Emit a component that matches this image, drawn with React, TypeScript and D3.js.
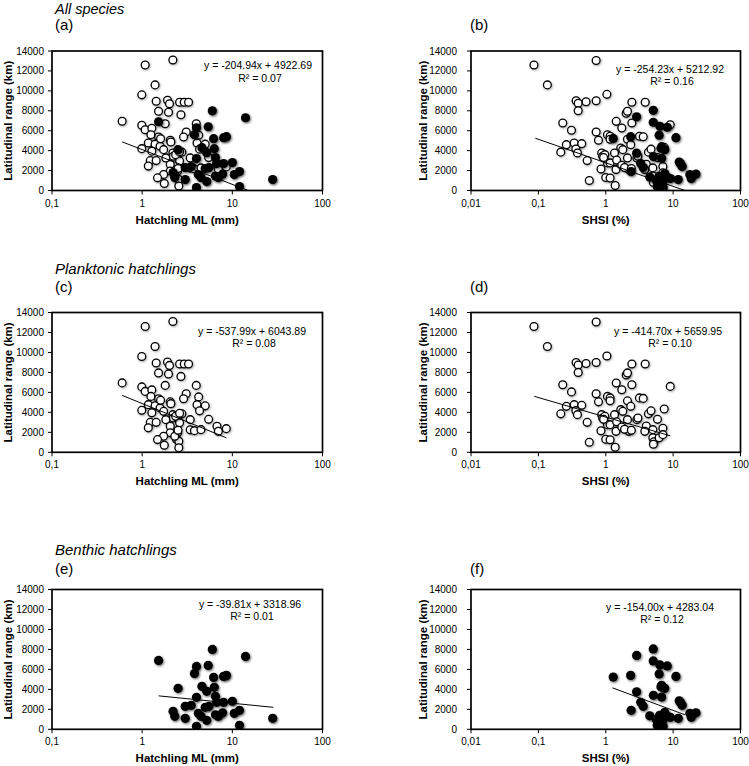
import React from "react";
import * as d3 from "d3";

// ---------- data (x, latitudinal range km) ----------
const planktonicML: [number, number][] = [
  [0.6, 6950], [1.08, 12600], [2.19, 13100], [1.39, 10600], [0.99, 9600], [1.43, 8950], [1.91, 9050],
  [2.01, 8700], [2.6, 8850], [2.93, 8850], [3.27, 8850], [1.52, 7950], [1.96, 7850], [2.69, 7600],
  [0.99, 6550], [1.8, 6700], [3.98, 6700], [1.08, 6100], [1.28, 6250], [3.08, 5870], [1.52, 5370],
  [1.25, 5600], [2.05, 5050], [2.08, 4870], [2.88, 5370], [4.23, 5550], [4.06, 4770], [5.0, 4650],
  [0.99, 4200], [1.17, 4770], [1.39, 4650], [1.58, 4440], [4.33, 4150], [1.28, 3950], [1.73, 4100],
  [2.19, 3770], [2.76, 3850], [3.41, 3270], [5.46, 3300], [1.23, 3000], [1.43, 3000], [1.83, 3270],
  [2.22, 3440], [2.45, 3500], [1.17, 2450], [2.05, 2600], [2.6, 2950], [3.41, 2250], [3.8, 2170],
  [4.49, 2270], [6.76, 2600], [7.0, 2100], [8.57, 2370], [2.05, 1950], [2.47, 1950], [1.73, 1600],
  [1.48, 1270], [2.4, 1300], [2.55, 1100], [1.76, 700], [2.55, 450], [2.3, 1600], [2.5, 2200],
  [2.35, 3600], [2.6, 3900], [1.6, 5200],
];

const planktonicSHSI: [number, number][] = [
  [0.086, 12600], [0.72, 13050], [0.136, 10600], [1.04, 9650], [0.363, 9000], [0.39, 8750], [0.51, 8900],
  [0.72, 9000], [0.39, 8000], [2.44, 8850], [3.85, 8850], [2.01, 7750], [2.1, 7950], [0.23, 6770],
  [0.31, 6050], [1.43, 6940], [2.44, 6770], [9.06, 6600], [0.72, 5870], [1.06, 5600], [1.16, 5450],
  [1.73, 6270], [3.16, 5450], [3.6, 5400], [0.26, 4600], [0.34, 4770], [0.44, 4700], [0.215, 3850],
  [0.36, 4170], [0.38, 3770], [0.78, 5050], [1.16, 5150], [2.1, 5150], [2.35, 4600], [1.67, 4270],
  [1.79, 4100], [7.38, 4330], [0.87, 3770], [0.9, 3440], [0.97, 3600], [0.53, 3000], [0.85, 2150],
  [1.06, 2770], [1.16, 2770], [1.35, 3770], [1.45, 3050], [2.1, 3270], [2.9, 3270], [3.0, 3440],
  [4.3, 3850], [4.7, 4150], [5.86, 3300], [4.0, 2640], [3.8, 2100], [5.0, 2270], [7.05, 2400],
  [1.42, 2100], [2.2, 2100], [1.73, 2540], [0.57, 1000], [1.0, 1300], [1.16, 1250], [1.38, 500],
  [5.0, 1450], [5.2, 1050], [5.1, 800], [6.2, 1450], [7.05, 1770], [0.93, 3300], [1.9, 2300], [2.4, 2200],
];

const benthicML: [number, number][] = [
  [1.52, 6900], [2.5, 4100], [3.0, 2300], [3.5, 2400], [2.2, 1800], [2.3, 1300], [3.0, 1100],
  [4.0, 6300], [3.8, 5600], [4.0, 3200], [4.6, 4300], [5.2, 3800], [5.4, 6400], [6.0, 8000],
  [6.2, 5200], [6.3, 4200], [6.5, 3300], [6.7, 2700], [8.0, 5300], [8.6, 5400], [8.0, 2700],
  [10.0, 2800], [5.0, 2200], [5.5, 2300], [4.2, 1600], [4.5, 1300], [5.2, 900], [6.5, 1450],
  [7.0, 1300], [7.8, 1650], [10.5, 1600], [12.0, 1900], [12.0, 400], [4.0, 300], [14.0, 7300],
  [28.0, 1100],
];

const benthicSHSI: [number, number][] = [
  [1.29, 5230], [2.87, 7400], [2.34, 5400], [5.07, 8050], [5.07, 6850], [6.37, 6450], [8.18, 6350],
  [6.2, 5550], [11.0, 5300], [6.75, 4400], [7.5, 4100], [6.6, 4250], [2.87, 3750], [5.1, 3400],
  [6.75, 3230], [3.3, 2700], [3.6, 2300], [2.38, 1900], [12.3, 2850], [13.6, 2400], [12.8, 2700],
  [4.5, 1350], [6.3, 1400], [7.5, 1700], [7.9, 1400], [9.1, 1200], [11.9, 1100], [17.7, 1600],
  [21.8, 1650], [18.6, 1200], [5.6, 1000], [6.2, 500], [7.1, 300], [6.9, 1200], [7.0, 900], [5.8, 400],
];

// trend line endpoints [x0, y0, x1, y1]
const trendA = [0.6, 4880, 15, 0];
const trendB = [0.09, 5250, 15, 0];
const trendC = [0.6, 5700, 8.6, 1450];
const trendD = [0.087, 5600, 9.1, 1650];
const trendE = [1.52, 3350, 28.5, 2200];
const trendF = [1.26, 4150, 15, 1450];

const equations = [
  "y = -204.94x + 4922.69", "y = -254.23x + 5212.92",
  "y = -537.99x + 6043.89", "y = -414.70x + 5659.95",
  "y = -39.81x + 3318.96", "y = -154.00x + 4283.04",
];
const r2Labels = ["R² = 0.07", "R² = 0.16", "R² = 0.08", "R² = 0.10", "R² = 0.01", "R² = 0.12"];
const panelLetters = ["(a)", "(b)", "(c)", "(d)", "(e)", "(f)"];
const groupTitles = ["All species", "Planktonic hatchlings", "Benthic hatchlings"];
const yTicks = [0, 2000, 4000, 6000, 8000, 10000, 12000, 14000];
const mlTicks = [0.1, 1, 10, 100];
const shsiTicks = [0.01, 0.1, 1, 10, 100];
const yTitle = "Latitudinal range (km)";
const mlTitle = "Hatchling ML (mm)";
const shsiTitle = "SHSI (%)";

const FONT = "'Liberation Sans', Arial, Helvetica, sans-serif";

type Panel = {
  left: number; right: number; top: number; bottom: number; letterY: number;
  ticks: number[]; xTitle: string;
  open: [number, number][]; filled: [number, number][];
  trend: number[]; eq: string; r2: string; letter: string;
  eqDx: number; eqDy: number; r2Dy: number;
};

const L = { left: 52, right: 322.5 };
const R = { left: 471, right: 740.5 };
const rows = [
  { top: 51, bottom: 190.5, letterY: 29.5 },
  { top: 312.5, bottom: 452.3, letterY: 291.5 },
  { top: 589.5, bottom: 729.3, letterY: 573.5 },
];

const panels: Panel[] = [
  { ...L, ...rows[0], ticks: mlTicks, xTitle: mlTitle, open: planktonicML, filled: benthicML, trend: trendA, eq: equations[0], r2: r2Labels[0], letter: panelLetters[0], eqDx: 206, eqDy: 18, r2Dy: 31 },
  { ...R, ...rows[0], ticks: shsiTicks, xTitle: shsiTitle, open: planktonicSHSI, filled: benthicSHSI, trend: trendB, eq: equations[1], r2: r2Labels[1], letter: panelLetters[1], eqDx: 199, eqDy: 22, r2Dy: 34 },
  { ...L, ...rows[1], ticks: mlTicks, xTitle: mlTitle, open: planktonicML, filled: [], trend: trendC, eq: equations[2], r2: r2Labels[2], letter: panelLetters[2], eqDx: 200, eqDy: 22, r2Dy: 34 },
  { ...R, ...rows[1], ticks: shsiTicks, xTitle: shsiTitle, open: planktonicSHSI, filled: [], trend: trendD, eq: equations[3], r2: r2Labels[3], letter: panelLetters[3], eqDx: 197, eqDy: 22, r2Dy: 34 },
  { ...L, ...rows[2], ticks: mlTicks, xTitle: mlTitle, open: [], filled: benthicML, trend: trendE, eq: equations[4], r2: r2Labels[4], letter: panelLetters[4], eqDx: 198, eqDy: 18, r2Dy: 30.5 },
  { ...R, ...rows[2], ticks: shsiTicks, xTitle: shsiTitle, open: [], filled: benthicSHSI, trend: trendF, eq: equations[5], r2: r2Labels[5], letter: panelLetters[5], eqDx: 189, eqDy: 21, r2Dy: 33.5 },
];

const fmtX = (v: number) => String(v).replace(".", ",");

function PanelView({ p, idx }: { p: Panel; idx: number }) {
  const x = d3.scaleLog().domain([p.ticks[0], p.ticks[p.ticks.length - 1]]).range([p.left, p.right]);
  const y = d3.scaleLinear().domain([0, 14000]).range([p.bottom, p.top]);
  const isLeft = p.left < 300;
  const yLabelX = isLeft ? 12 : 427;
  const clipId = `clip${idx}`;
  const line = d3.line<[number, number]>().x((d) => x(d[0])).y((d) => y(d[1]));
  const trendPts: [number, number][] = [[p.trend[0], p.trend[1]], [p.trend[2], p.trend[3]]];
  return (
    <g>
      <clipPath id={clipId}>
        <rect x={p.left} y={p.top} width={p.right - p.left} height={p.bottom - p.top} />
      </clipPath>
      <text x={isLeft ? p.left + 3 : p.left - 1} y={p.letterY} fontSize={15} fontFamily={FONT}>{p.letter}</text>
      {/* y ticks */}
      {yTicks.map((t) => (
        <g key={t}>
          <line x1={p.left - 4} x2={p.left} y1={y(t)} y2={y(t)} stroke="#000" strokeWidth={1} />
          <text x={isLeft ? p.left - 8 : p.left - 14} y={y(t) + 3.5} fontSize={10} textAnchor="end" fontFamily={FONT}>{t}</text>
        </g>
      ))}
      {/* x ticks */}
      {p.ticks.map((t) => (
        <g key={t}>
          <line x1={x(t)} x2={x(t)} y1={p.bottom} y2={p.bottom + 4} stroke="#000" strokeWidth={1} />
          <text x={x(t)} y={p.bottom + 16} fontSize={10} textAnchor="middle" fontFamily={FONT}>{fmtX(t)}</text>
        </g>
      ))}
      <text x={(p.left + p.right) / 2} y={p.bottom + 33} fontSize={11.5} fontWeight="bold" textAnchor="middle" fontFamily={FONT}>{p.xTitle}</text>
      <text transform={`translate(${yLabelX},${(p.top + p.bottom) / 2}) rotate(-90)`} fontSize={11.5} fontWeight="bold" textAnchor="middle" fontFamily={FONT}>{yTitle}</text>
      {/* points */}
      <g clipPath={`url(#${clipId})`}>
        {p.open.map((d, i) => (
          <circle key={"o" + i} cx={x(d[0])} cy={y(d[1])} r={3.9} fill="#fff" stroke="#000" strokeWidth={1.3} filter="url(#shOpen)" />
        ))}
        {p.filled.map((d, i) => (
          <circle key={"f" + i} cx={x(d[0])} cy={y(d[1])} r={4.6} fill="#000" filter="url(#shFill)" />
        ))}
        <path d={line(trendPts) || ""} stroke="#000" strokeWidth={1} fill="none" />
      </g>
      <rect x={p.left} y={p.top} width={p.right - p.left} height={p.bottom - p.top} fill="none" stroke="#000" strokeWidth={1.7} />
      <text x={p.left + p.eqDx} y={p.top + p.eqDy} fontSize={10.5} textAnchor="middle" fontFamily={FONT}>{p.eq}</text>
      <text x={p.left + p.eqDx + 2} y={p.top + p.r2Dy} fontSize={10.5} textAnchor="middle" fontFamily={FONT}>{p.r2}</text>
    </g>
  );
}

export default function App() {
  return (
    <svg width={749} height={766} style={{ position: "absolute", left: 0, top: 0, display: "block", background: "#fff" }}>
      <defs>
        <filter id="shFill" x="-60%" y="-60%" width="220%" height="220%">
          <feDropShadow dx={1} dy={1.2} stdDeviation={1} floodColor="#000" floodOpacity={0.6} />
        </filter>
        <filter id="shOpen" x="-60%" y="-60%" width="220%" height="220%">
          <feDropShadow dx={0.8} dy={1} stdDeviation={0.8} floodColor="#000" floodOpacity={0.35} />
        </filter>
      </defs>
      <rect width={749} height={766} fill="#fff" />
      <text x={55} y={13.5} fontSize={14.5} fontStyle="italic" fontFamily={FONT}>{groupTitles[0]}</text>
      <text x={55} y={273.5} fontSize={15} fontStyle="italic" fontFamily={FONT}>{groupTitles[1]}</text>
      <text x={55} y={554.5} fontSize={15} fontStyle="italic" fontFamily={FONT}>{groupTitles[2]}</text>
      {panels.map((p, i) => (
        <PanelView key={i} p={p} idx={i} />
      ))}
    </svg>
  );
}
